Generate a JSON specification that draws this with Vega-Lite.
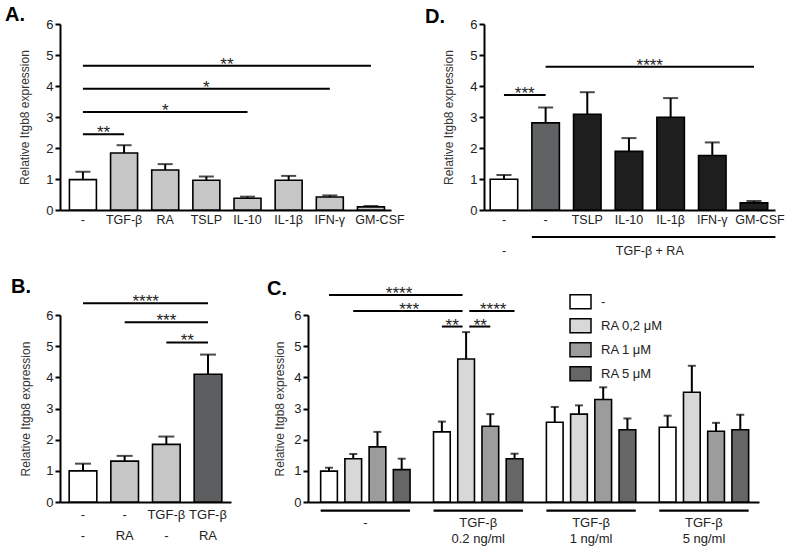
{
  "$schema": "https://vega.github.io/schema/vega-lite/v6.json",
  "background": "white",
  "padding": {"left": 5, "top": 5, "right": 5, "bottom": 5},
  "config": {
    "font": "Liberation Sans",
    "view": {"stroke": null},
    "axis": {"grid": false, "domainColor": "#000", "domainWidth": 2, "tickColor": "#000", "tickWidth": 2, "labelFont": "Liberation Sans", "labelFontSize": 13, "labelColor": "#222", "titleFont": "Liberation Sans", "titleFontSize": 12, "titleFontWeight": "normal", "titleColor": "#333", "labelOverlap": false},
    "title": {"font": "Liberation Sans", "fontSize": 20, "fontWeight": "bold", "anchor": "start", "frame": "group", "color": "#000", "baseline": "alphabetic", "offset": 2}
  },
  "datasets": {
    "A": [
      {"cond": "-", "mean": 0.98, "upper": 1.23},
      {"cond": "TGF-β", "mean": 1.84, "upper": 2.09},
      {"cond": "RA", "mean": 1.29, "upper": 1.48},
      {"cond": "TSLP", "mean": 0.96, "upper": 1.08},
      {"cond": "IL-10", "mean": 0.38, "upper": 0.43},
      {"cond": "IL-1β", "mean": 0.96, "upper": 1.10},
      {"cond": "IFN-γ", "mean": 0.42, "upper": 0.47},
      {"cond": "GM-CSF", "mean": 0.10, "upper": 0.13}
    ],
    "Asig": [
      {"from": "-", "to": "TGF-β", "y": 2.44},
      {"from": "-", "to": "IL-10", "y": 3.16},
      {"from": "-", "to": "IFN-γ", "y": 3.91},
      {"from": "-", "to": "GM-CSF", "y": 4.65}
    ],
    "AstarOn": [
      {"at": "RA", "y": 3.16, "label": "*"},
      {"at": "TSLP", "y": 3.91, "label": "*"}
    ],
    "AstarGap": [
      {"at": "-", "y": 2.44, "label": "**"},
      {"at": "TSLP", "y": 4.65, "label": "**"}
    ],
    "D": [
      {"cond": "none", "mean": 0.99, "upper": 1.13},
      {"cond": "-", "mean": 2.81, "upper": 3.31},
      {"cond": "TSLP", "mean": 3.09, "upper": 3.80},
      {"cond": "IL-10", "mean": 1.89, "upper": 2.32},
      {"cond": "IL-1β", "mean": 2.99, "upper": 3.61},
      {"cond": "IFN-γ", "mean": 1.76, "upper": 2.18},
      {"cond": "GM-CSF", "mean": 0.23, "upper": 0.29}
    ],
    "Dsig": [
      {"from": "none", "to": "-", "y": 3.71},
      {"from": "-", "to": "GM-CSF", "y": 4.62}
    ],
    "DstarGap": [
      {"at": "none", "y": 3.71, "label": "***"},
      {"at": "IL-10", "y": 4.62, "label": "****"}
    ],
    "Dunder": [{"from": "-", "to": "GM-CSF", "y": -0.87}],
    "Drow2a": [{"at": "none", "y": -1.32, "label": "-"}],
    "Drow2b": [{"at": "IL-10", "y": -1.32, "label": "TGF-β + RA"}],
    "B": [
      {"cond": "-|-", "mean": 1.0, "upper": 1.23},
      {"cond": "-|RA", "mean": 1.31, "upper": 1.48},
      {"cond": "TGF-β|-", "mean": 1.85, "upper": 2.10},
      {"cond": "TGF-β|RA", "mean": 4.10, "upper": 4.73}
    ],
    "Bsig": [
      {"from": "-|-", "to": "TGF-β|RA", "y": 6.38},
      {"from": "-|RA", "to": "TGF-β|RA", "y": 5.77},
      {"from": "TGF-β|-", "to": "TGF-β|RA", "y": 5.12}
    ],
    "BstarOn": [{"at": "TGF-β|-", "y": 5.77, "label": "***"}],
    "BstarGap": [
      {"at": "-|RA", "y": 6.38, "label": "****"},
      {"at": "TGF-β|-", "y": 5.12, "label": "**"}
    ],
    "C": [
      {"group": "-", "treat": "-", "mean": 0.99, "upper": 1.10},
      {"group": "-", "treat": "RA 0,2 μM", "mean": 1.39, "upper": 1.54},
      {"group": "-", "treat": "RA 1 μM", "mean": 1.77, "upper": 2.25},
      {"group": "-", "treat": "RA 5 μM", "mean": 1.04, "upper": 1.39},
      {"group": "TGF-β|0.2 ng/ml", "treat": "-", "mean": 2.25, "upper": 2.58},
      {"group": "TGF-β|0.2 ng/ml", "treat": "RA 0,2 μM", "mean": 4.59, "upper": 5.45},
      {"group": "TGF-β|0.2 ng/ml", "treat": "RA 1 μM", "mean": 2.43, "upper": 2.82},
      {"group": "TGF-β|0.2 ng/ml", "treat": "RA 5 μM", "mean": 1.39, "upper": 1.55},
      {"group": "TGF-β|1 ng/ml", "treat": "-", "mean": 2.56, "upper": 3.05},
      {"group": "TGF-β|1 ng/ml", "treat": "RA 0,2 μM", "mean": 2.82, "upper": 3.10},
      {"group": "TGF-β|1 ng/ml", "treat": "RA 1 μM", "mean": 3.29, "upper": 3.68},
      {"group": "TGF-β|1 ng/ml", "treat": "RA 5 μM", "mean": 2.32, "upper": 2.68},
      {"group": "TGF-β|5 ng/ml", "treat": "-", "mean": 2.40, "upper": 2.77},
      {"group": "TGF-β|5 ng/ml", "treat": "RA 0,2 μM", "mean": 3.52, "upper": 4.37},
      {"group": "TGF-β|5 ng/ml", "treat": "RA 1 μM", "mean": 2.27, "upper": 2.54},
      {"group": "TGF-β|5 ng/ml", "treat": "RA 5 μM", "mean": 2.32, "upper": 2.80}
    ],
    "Cgroups": [
      {"group": "-"}, {"group": "TGF-β|0.2 ng/ml"}, {"group": "TGF-β|1 ng/ml"}, {"group": "TGF-β|5 ng/ml"}
    ],
    "Csig1": [
      {"from": "-", "to": "TGF-β|0.2 ng/ml", "y": 6.645},
      {"from": "TGF-β|0.2 ng/ml", "to": "TGF-β|0.2 ng/ml", "y": 5.63}
    ],
    "Csig2": [{"from": "-", "to": "TGF-β|0.2 ng/ml", "y": 6.13}],
    "Csig3": [{"from": "TGF-β|0.2 ng/ml", "to": "TGF-β|0.2 ng/ml", "y": 6.13}],
    "Csig4": [{"from": "TGF-β|0.2 ng/ml", "to": "TGF-β|0.2 ng/ml", "y": 5.63}],
    "Cstar1": [{"at": "-", "y": 6.645, "label": "****"}],
    "Cstar2": [{"at": "-", "y": 6.13, "label": "***"}],
    "Cstar3": [{"at": "TGF-β|0.2 ng/ml", "y": 6.13, "label": "****"}],
    "Cstar4": [{"at": "TGF-β|0.2 ng/ml", "y": 5.63, "label": "**"}],
    "Cstar5": [{"at": "TGF-β|0.2 ng/ml", "y": 5.63, "label": "**"}]
  },
  "spacing": 19,
  "resolve": {"scale": {"fill": "independent"}, "legend": {"fill": "independent"}},
  "vconcat": [
    {
      "hconcat": [
        {
          "width": 331, "height": 186,
          "title": {"text": "A.", "dx": -55, "dy": 9},
          "layer": [
            {
              "data": {"name": "A"},
              "mark": {"type": "bar", "stroke": "#000", "strokeWidth": 1.6},
              "encoding": {
                "x": {"field": "cond", "type": "nominal", "scale": {"domain": ["-", "TGF-β", "RA", "TSLP", "IL-10", "IL-1β", "IFN-γ", "GM-CSF"], "paddingInner": 0.344, "paddingOuter": 0.194, "align": 0.59}, "axis": {"title": null, "ticks": false, "labelAngle": 0, "labelPadding": 3, "labelFontSize": 12.5, "labelFont": "Liberation Sans", "labelColor": "#222", "labelOverlap": false, "domainWidth": 2, "domainColor": "#000", "labelOffset": {"condition": {"test": "datum.value == 'GM-CSF'", "value": 9}, "value": 0}}},
                "y": {"field": "mean", "type": "quantitative", "scale": {"domain": [0, 6], "nice": false}, "axis": {"title": "Relative Itgb8 expression", "values": [0, 1, 2, 3, 4, 5, 6], "tickCount": 7, "labelOverlap": false, "tickSize": 5, "tickWidth": 2, "tickColor": "#000", "domainWidth": 2, "domainColor": "#000", "labelPadding": 2, "labelFontSize": 13, "labelFont": "Liberation Sans", "labelColor": "#222", "titleFontSize": 12, "titleFontWeight": "normal", "titleFont": "Liberation Sans", "titleColor": "#333", "titlePadding": 14, "grid": false}},
                "fill": {"field": "cond", "type": "nominal", "scale": {"domain": ["-", "TGF-β", "RA", "TSLP", "IL-10", "IL-1β", "IFN-γ", "GM-CSF"], "range": ["#ffffff", "#c6c6c6", "#c6c6c6", "#c6c6c6", "#c6c6c6", "#c6c6c6", "#c6c6c6", "#c6c6c6"]}, "legend": null}
              }
            },
            {
              "data": {"name": "A"},
              "mark": {"type": "rule", "color": "#000", "strokeWidth": 2},
              "encoding": {"x": {"field": "cond", "type": "nominal"}, "y": {"field": "mean", "type": "quantitative"}, "y2": {"field": "upper"}}
            },
            {
              "data": {"name": "A"},
              "mark": {"type": "tick", "orient": "horizontal", "color": "#000", "size": 15, "thickness": 2},
              "encoding": {"x": {"field": "cond", "type": "nominal"}, "y": {"field": "upper", "type": "quantitative"}}
            },
            {
              "data": {"name": "Asig"},
              "mark": {"type": "rule", "color": "#000", "strokeWidth": 2},
              "encoding": {"x": {"field": "from", "type": "nominal"}, "x2": {"field": "to"}, "y": {"field": "y", "type": "quantitative"}}
            },
            {
              "data": {"name": "AstarOn"},
              "mark": {"type": "text", "fontSize": 17, "baseline": "alphabetic", "dy": 4, "color": "#222"},
              "encoding": {"x": {"field": "at", "type": "nominal"}, "y": {"field": "y", "type": "quantitative"}, "text": {"field": "label"}}
            },
            {
              "data": {"name": "AstarGap"},
              "mark": {"type": "text", "fontSize": 17, "baseline": "alphabetic", "dy": 4, "dx": 20.6, "color": "#222"},
              "encoding": {"x": {"field": "at", "type": "nominal"}, "y": {"field": "y", "type": "quantitative"}, "text": {"field": "label"}}
            }
          ]
        },
        {
          "width": 291, "height": 186,
          "title": {"text": "D.", "dx": -59, "dy": 10.5},
          "layer": [
            {
              "data": {"name": "D"},
              "mark": {"type": "bar", "stroke": "#000", "strokeWidth": 1.6},
              "encoding": {
                "x": {"field": "cond", "type": "nominal", "scale": {"domain": ["none", "-", "TSLP", "IL-10", "IL-1β", "IFN-γ", "GM-CSF"], "paddingInner": 0.34, "paddingOuter": 0.162, "align": 0.46}, "axis": {"title": null, "ticks": false, "labelAngle": 0, "labelPadding": 3, "labelFontSize": 12.5, "labelFont": "Liberation Sans", "labelColor": "#222", "labelOverlap": false, "domainWidth": 2, "domainColor": "#000", "labelExpr": "datum.value == 'none' ? '-' : datum.value", "labelOffset": {"condition": {"test": "datum.value == 'GM-CSF'", "value": 6}, "value": 0}}},
                "y": {"field": "mean", "type": "quantitative", "scale": {"domain": [0, 6], "nice": false}, "axis": {"title": "Relative Itgb8 expression", "values": [0, 1, 2, 3, 4, 5, 6], "tickCount": 7, "labelOverlap": false, "tickSize": 5, "tickWidth": 2, "tickColor": "#000", "domainWidth": 2, "domainColor": "#000", "labelPadding": 2, "labelFontSize": 13, "labelFont": "Liberation Sans", "labelColor": "#222", "titleFontSize": 12, "titleFontWeight": "normal", "titleFont": "Liberation Sans", "titleColor": "#333", "titlePadding": 14, "grid": false}},
                "fill": {"field": "cond", "type": "nominal", "scale": {"domain": ["none", "-", "TSLP", "IL-10", "IL-1β", "IFN-γ", "GM-CSF"], "range": ["#ffffff", "#606264", "#1e1e1e", "#1e1e1e", "#1e1e1e", "#1e1e1e", "#1e1e1e"]}, "legend": null}
              }
            },
            {
              "data": {"name": "D"},
              "mark": {"type": "rule", "color": "#000", "strokeWidth": 2},
              "encoding": {"x": {"field": "cond", "type": "nominal"}, "y": {"field": "mean", "type": "quantitative"}, "y2": {"field": "upper"}}
            },
            {
              "data": {"name": "D"},
              "mark": {"type": "tick", "orient": "horizontal", "color": "#000", "size": 15, "thickness": 2},
              "encoding": {"x": {"field": "cond", "type": "nominal"}, "y": {"field": "upper", "type": "quantitative"}}
            },
            {
              "data": {"name": "Dsig"},
              "mark": {"type": "rule", "color": "#000", "strokeWidth": 2},
              "encoding": {"x": {"field": "from", "type": "nominal"}, "x2": {"field": "to"}, "y": {"field": "y", "type": "quantitative"}}
            },
            {
              "data": {"name": "DstarGap"},
              "mark": {"type": "text", "fontSize": 17, "baseline": "alphabetic", "dy": 4, "dx": 20.8, "color": "#222"},
              "encoding": {"x": {"field": "at", "type": "nominal"}, "y": {"field": "y", "type": "quantitative"}, "text": {"field": "label"}}
            },
            {
              "data": {"name": "Dunder"},
              "mark": {"type": "rule", "color": "#000", "strokeWidth": 2},
              "encoding": {"x": {"field": "from", "type": "nominal", "bandPosition": 0}, "x2": {"field": "to", "bandPosition": 1.28}, "y": {"field": "y", "type": "quantitative"}}
            },
            {
              "data": {"name": "Drow2a"},
              "mark": {"type": "text", "fontSize": 12.5, "baseline": "middle", "color": "#222"},
              "encoding": {"x": {"field": "at", "type": "nominal"}, "y": {"field": "y", "type": "quantitative"}, "text": {"field": "label"}}
            },
            {
              "data": {"name": "Drow2b"},
              "mark": {"type": "text", "fontSize": 12.5, "baseline": "middle", "dx": 20.8, "color": "#222"},
              "encoding": {"x": {"field": "at", "type": "nominal"}, "y": {"field": "y", "type": "quantitative"}, "text": {"field": "label"}}
            }
          ]
        }
      ],
      "spacing": 93,
      "bounds": "flush",
      "resolve": {"scale": {"fill": "independent"}, "legend": {"fill": "independent"}}
    },
    {
      "hconcat": [
        {
          "width": 171, "height": 187,
          "title": {"text": "B.", "dx": -49, "dy": 6},
          "layer": [
            {
              "data": {"name": "B"},
              "mark": {"type": "bar", "stroke": "#000", "strokeWidth": 1.6},
              "encoding": {
                "x": {"field": "cond", "type": "nominal", "scale": {"domain": ["-|-", "-|RA", "TGF-β|-", "TGF-β|RA"], "paddingInner": 0.336, "paddingOuter": 0.22}, "axis": {"title": null, "ticks": false, "labelAngle": 0, "labelPadding": 6, "labelLineHeight": 21, "labelFontSize": 13, "labelFont": "Liberation Sans", "labelColor": "#222", "labelOverlap": false, "domainWidth": 2, "domainColor": "#000", "labelExpr": "split(datum.value, '|')"}},
                "y": {"field": "mean", "type": "quantitative", "scale": {"domain": [0, 6], "nice": false}, "axis": {"title": "Relative Itgb8 expression", "values": [0, 1, 2, 3, 4, 5, 6], "tickCount": 7, "labelOverlap": false, "tickSize": 5, "tickWidth": 2, "tickColor": "#000", "domainWidth": 2, "domainColor": "#000", "labelPadding": 2, "labelFontSize": 13, "labelFont": "Liberation Sans", "labelColor": "#222", "titleFontSize": 12, "titleFontWeight": "normal", "titleFont": "Liberation Sans", "titleColor": "#333", "titlePadding": 13, "grid": false}},
                "fill": {"field": "cond", "type": "nominal", "scale": {"domain": ["-|-", "-|RA", "TGF-β|-", "TGF-β|RA"], "range": ["#ffffff", "#c6c6c6", "#c6c6c6", "#5c5e60"]}, "legend": null}
              }
            },
            {
              "data": {"name": "B"},
              "mark": {"type": "rule", "color": "#000", "strokeWidth": 2},
              "encoding": {"x": {"field": "cond", "type": "nominal"}, "y": {"field": "mean", "type": "quantitative"}, "y2": {"field": "upper"}}
            },
            {
              "data": {"name": "B"},
              "mark": {"type": "tick", "orient": "horizontal", "color": "#000", "size": 16, "thickness": 2},
              "encoding": {"x": {"field": "cond", "type": "nominal"}, "y": {"field": "upper", "type": "quantitative"}}
            },
            {
              "data": {"name": "Bsig"},
              "mark": {"type": "rule", "color": "#000", "strokeWidth": 2},
              "encoding": {"x": {"field": "from", "type": "nominal"}, "x2": {"field": "to"}, "y": {"field": "y", "type": "quantitative"}}
            },
            {
              "data": {"name": "BstarOn"},
              "mark": {"type": "text", "fontSize": 17, "baseline": "alphabetic", "dy": 4, "color": "#222"},
              "encoding": {"x": {"field": "at", "type": "nominal"}, "y": {"field": "y", "type": "quantitative"}, "text": {"field": "label"}}
            },
            {
              "data": {"name": "BstarGap"},
              "mark": {"type": "text", "fontSize": 17, "baseline": "alphabetic", "dy": 4, "dx": 21, "color": "#222"},
              "encoding": {"x": {"field": "at", "type": "nominal"}, "y": {"field": "y", "type": "quantitative"}, "text": {"field": "label"}}
            }
          ]
        },
        {
          "width": 451, "height": 187,
          "title": {"text": "C.", "dx": -41, "dy": 16},
          "layer": [
            {
              "data": {"name": "C"},
              "mark": {"type": "bar", "stroke": "#000", "strokeWidth": 1.6},
              "encoding": {
                "x": {"field": "group", "type": "nominal", "scale": {"domain": ["-", "TGF-β|0.2 ng/ml", "TGF-β|1 ng/ml", "TGF-β|5 ng/ml"], "paddingInner": 0.208, "paddingOuter": 0.102, "align": 0.55}, "axis": {"title": null, "ticks": false, "labelAngle": 0, "labelPadding": 14, "labelLineHeight": 16, "labelFontSize": 13, "labelFont": "Liberation Sans", "labelColor": "#222", "labelOverlap": false, "domainWidth": 2, "domainColor": "#000", "labelExpr": "split(datum.value, '|')"}},
                "xOffset": {"field": "treat", "type": "nominal", "scale": {"domain": ["-", "RA 0,2 μM", "RA 1 μM", "RA 5 μM"], "paddingInner": 0.31, "paddingOuter": 0}},
                "y": {"field": "mean", "type": "quantitative", "scale": {"domain": [0, 6], "nice": false}, "axis": {"title": "Relative Itgb8 expression", "values": [0, 1, 2, 3, 4, 5, 6], "tickCount": 7, "labelOverlap": false, "tickSize": 5, "tickWidth": 2, "tickColor": "#000", "domainWidth": 2, "domainColor": "#000", "labelPadding": 2, "labelFontSize": 13, "labelFont": "Liberation Sans", "labelColor": "#222", "titleFontSize": 12, "titleFontWeight": "normal", "titleFont": "Liberation Sans", "titleColor": "#333", "titlePadding": 7, "grid": false}},
                "fill": {"field": "treat", "type": "nominal", "scale": {"domain": ["-", "RA 0,2 μM", "RA 1 μM", "RA 5 μM"], "range": ["#ffffff", "#d8d8d8", "#9c9c9c", "#666666"]}, "legend": {"orient": "none", "legendX": 264.5, "legendY": -21.3, "title": null, "symbolType": "M-1.5,-1L1.5,-1L1.5,1L-1.5,1Z", "symbolSize": 196, "symbolStrokeColor": "#000", "symbolStrokeWidth": 1.5, "labelFontSize": 13, "labelFont": "Liberation Sans", "labelColor": "#222", "labelOffset": 12.5, "rowPadding": 4, "padding": 0}}
              }
            },
            {
              "data": {"name": "C"},
              "mark": {"type": "rule", "color": "#000", "strokeWidth": 2},
              "encoding": {"x": {"field": "group", "type": "nominal"}, "xOffset": {"field": "treat", "type": "nominal"}, "y": {"field": "mean", "type": "quantitative"}, "y2": {"field": "upper"}}
            },
            {
              "data": {"name": "C"},
              "mark": {"type": "tick", "orient": "horizontal", "color": "#000", "size": 8, "thickness": 2},
              "encoding": {"x": {"field": "group", "type": "nominal"}, "xOffset": {"field": "treat", "type": "nominal"}, "y": {"field": "upper", "type": "quantitative"}}
            },
            {
              "data": {"name": "Cgroups"},
              "mark": {"type": "bar", "color": "#000"},
              "encoding": {"x": {"field": "group", "type": "nominal"}, "y": {"datum": -0.24, "type": "quantitative"}, "y2": {"datum": -0.31}}
            },
            {
              "data": {"name": "Csig1"},
              "mark": {"type": "rule", "color": "#000", "strokeWidth": 2},
              "encoding": {"x": {"field": "from", "type": "nominal", "bandPosition": 0.0935}, "x2": {"field": "to", "bandPosition": 0.325}, "y": {"field": "y", "type": "quantitative"}}
            },
            {
              "data": {"name": "Csig2"},
              "mark": {"type": "rule", "color": "#000", "strokeWidth": 2},
              "encoding": {"x": {"field": "from", "type": "nominal", "bandPosition": 0.364}, "x2": {"field": "to", "bandPosition": 0.325}, "y": {"field": "y", "type": "quantitative"}}
            },
            {
              "data": {"name": "Csig3"},
              "mark": {"type": "rule", "color": "#000", "strokeWidth": 2},
              "encoding": {"x": {"field": "from", "type": "nominal", "bandPosition": 0.40}, "x2": {"field": "to", "bandPosition": 0.906}, "y": {"field": "y", "type": "quantitative"}}
            },
            {
              "data": {"name": "Csig4"},
              "mark": {"type": "rule", "color": "#000", "strokeWidth": 2},
              "encoding": {"x": {"field": "from", "type": "nominal", "bandPosition": 0.40}, "x2": {"field": "to", "bandPosition": 0.635}, "y": {"field": "y", "type": "quantitative"}}
            },
            {
              "data": {"name": "Cstar1"},
              "mark": {"type": "text", "fontSize": 17, "baseline": "alphabetic", "dy": 4, "color": "#222"},
              "encoding": {"x": {"field": "at", "type": "nominal", "bandPosition": 0.877}, "y": {"field": "y", "type": "quantitative"}, "text": {"field": "label"}}
            },
            {
              "data": {"name": "Cstar2"},
              "mark": {"type": "text", "fontSize": 17, "baseline": "alphabetic", "dy": 4, "color": "#222"},
              "encoding": {"x": {"field": "at", "type": "nominal", "bandPosition": 0.989}, "y": {"field": "y", "type": "quantitative"}, "text": {"field": "label"}}
            },
            {
              "data": {"name": "Cstar3"},
              "mark": {"type": "text", "fontSize": 17, "baseline": "alphabetic", "dy": 4, "color": "#222"},
              "encoding": {"x": {"field": "at", "type": "nominal", "bandPosition": 0.668}, "y": {"field": "y", "type": "quantitative"}, "text": {"field": "label"}}
            },
            {
              "data": {"name": "Cstar4"},
              "mark": {"type": "text", "fontSize": 17, "baseline": "alphabetic", "dy": 4, "color": "#222"},
              "encoding": {"x": {"field": "at", "type": "nominal", "bandPosition": 0.209}, "y": {"field": "y", "type": "quantitative"}, "text": {"field": "label"}}
            },
            {
              "data": {"name": "Cstar5"},
              "mark": {"type": "text", "fontSize": 17, "baseline": "alphabetic", "dy": 4, "color": "#222"},
              "encoding": {"x": {"field": "at", "type": "nominal", "bandPosition": 0.523}, "y": {"field": "y", "type": "quantitative"}, "text": {"field": "label"}}
            }
          ]
        }
      ],
      "spacing": 77,
      "bounds": "flush",
      "resolve": {"scale": {"fill": "independent"}, "legend": {"fill": "independent"}}
    }
  ]
}
